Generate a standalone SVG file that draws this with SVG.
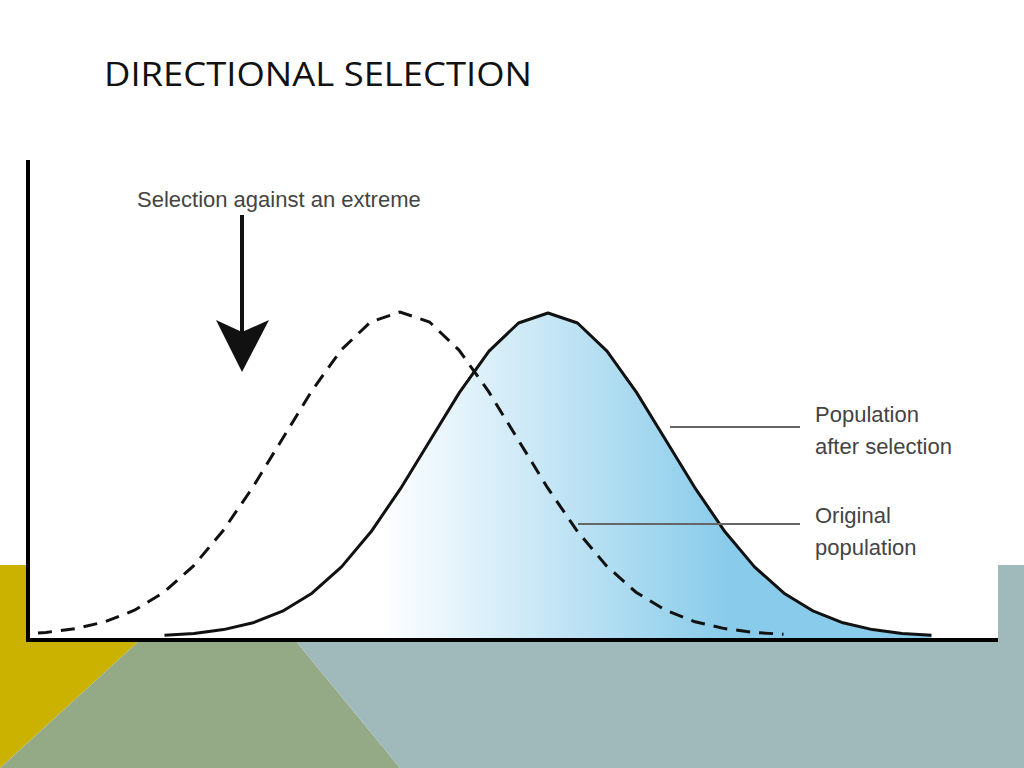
<svg xmlns="http://www.w3.org/2000/svg" width="1024" height="768" viewBox="0 0 1024 768">
<defs>
<linearGradient id="fill" gradientUnits="userSpaceOnUse" x1="380" y1="0" x2="730" y2="0">
<stop offset="0" stop-color="#ffffff"/><stop offset="1" stop-color="#88cbea"/>
</linearGradient>
<style>
.lbl{font-family:"Liberation Sans",Arial,sans-serif;font-size:22px;fill:#444}
.curve{fill:none;stroke:#111;stroke-width:3}
</style>
</defs>
<rect width="1024" height="768" fill="#fff"/>
<g id="background">
<polygon points="0,565 28,565 28,640 140,640 0,768" fill="#cbb100"/>
<polygon points="140,640 295,640 400,768 0,768" fill="#94aa86"/>
<polygon points="295,640 998,640 998,565 1024,565 1024,768 400,768" fill="#a0babc"/>
</g>
<text x="104" y="86" font-family="Open Sans, Liberation Sans, sans-serif" font-size="32" fill="#111" textLength="428" lengthAdjust="spacingAndGlyphs">DIRECTIONAL SELECTION</text>
<g id="after">
<path d="M164.5,635.3 L194,633.4 223.5,629.6 253,622.8 282.5,611.2 312,593.2 341.5,566.9 371,531.8 400.5,488.7 430,440.5 459.5,392.4 489,351.1 518.5,323 548,313 577.5,323 607,351.1 636.5,392.4 666,440.5 695.5,488.7 725,531.8 754.5,566.9 784,593.2 813.5,611.2 843,622.8 872.5,629.6 902,633.4 931.5,635.3 L931.5,638 164.5,638Z" fill="url(#fill)"/>
<path class="curve" stroke-linejoin="round" d="M164.5,635.3 L194,633.4 223.5,629.6 253,622.8 282.5,611.2 312,593.2 341.5,566.9 371,531.8 400.5,488.7 430,440.5 459.5,392.4 489,351.1 518.5,323 548,313 577.5,323 607,351.1 636.5,392.4 666,440.5 695.5,488.7 725,531.8 754.5,566.9 784,593.2 813.5,611.2 843,622.8 872.5,629.6 902,633.4 931.5,635.3"/>
</g>
<g id="original">
<path class="curve" stroke-dasharray="14,9" d="M38,633 L46,632.4 75.5,628.6 105,621.8 134.5,610.2 164,592.2 193.5,565.9 223,530.8 252.5,487.7 282,439.5 311.5,391.4 341,350.1 370.5,322 400,312 429.5,322 459,350.1 488.5,391.4 518,439.5 547.5,487.7 577,530.8 606.5,565.9 636,592.2 665.5,610.2 695,621.8 724.5,628.6 754,632.4 783.5,634.3"/>
</g>
<g id="axes" stroke="#000" stroke-width="4" fill="none">
<path d="M28,160 V640 H998"/>
</g>
<g id="connectors" stroke="#666" stroke-width="2">
<line x1="670" y1="427" x2="800" y2="427"/>
<line x1="578" y1="524" x2="800" y2="524"/>
<line x1="242" y1="215" x2="242" y2="335" stroke="#111" stroke-width="4"/>
<polygon points="216,320 242,332 269,320 242,372" fill="#111" stroke="none"/>
</g>
<g id="labels">
<text class="lbl" x="137" y="207" font-size="21">Selection against an extreme</text>
<text class="lbl" x="815" y="422">Population</text>
<text class="lbl" x="815" y="454">after selection</text>
<text class="lbl" x="815" y="523">Original</text>
<text class="lbl" x="815" y="555">population</text>
</g>
</svg>
